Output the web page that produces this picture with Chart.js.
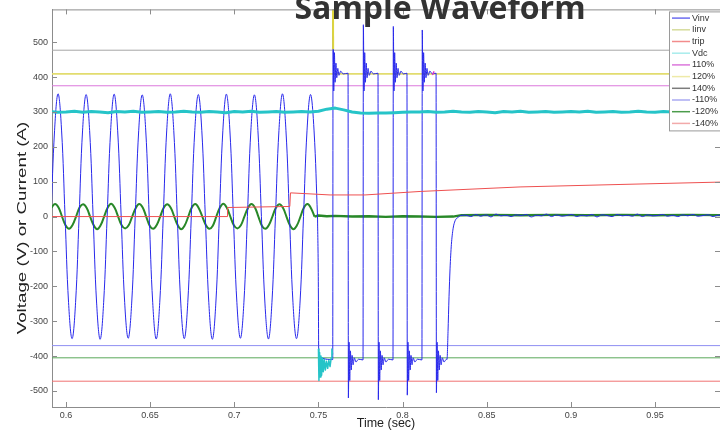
<!DOCTYPE html>
<html>
<head>
<meta charset="utf-8">
<script src="https://cdn.jsdelivr.net/npm/chart.js@4.4.1/dist/chart.umd.min.js"></script>
<style>
  html, body { margin: 0; padding: 0; background: #fff; }
  #wrap { width: 720px; height: 432px; }
</style>
</head>
<body>
<div id="wrap"><canvas id="myChart" width="720" height="432"></canvas></div>
<script>
const ctx = document.getElementById('myChart').getContext('2d');

// axis ranges (sec, V/A)
const xMin = 0.5917, xMax = 0.9886;
const yMin = -546, yMax = 594;

// Vinv sine part, sampled every 1/480 s
const vinvSineStart = 0.59113;
const vinvSineStep = 0.00208333;
const vinvSine = [
  0, 246, 352, 248, 0, -247, -350, -246,
  0, 248, 350, 247, 0, -248, -352, -247,
  0, 247, 351, 246, 0, -246, -349, -248,
  0, 246, 349, 248, 0, -247, -351, -247,
  0, 248, 352, 247, 0, -248, -350, -246,
  0, 247, 350, 246, 0, -247, -352, -248,
  0, 246, 351, 248, 0, -246, -349, -247,
  0, 248, 349, 247, 0, -248, -351, -246,
  0, 247, 352, 246, 0, -247, -350, -248,
  0, 246, 350, 248, 0
];

// Vinv after the trip: pulses with ringing, then recovery
const vinvPulseTime = [
  0.74946, 0.7499, 0.7502, 0.7585,
  0.7587, 0.7591, 0.7595, 0.7599, 0.7604, 0.7609, 0.7615, 0.7622, 0.7632, 0.7647, 0.7676,
  0.7678, 0.7682, 0.7686, 0.7690, 0.7695, 0.7700, 0.7706, 0.7713, 0.7723, 0.7738, 0.7765,
  0.7767, 0.7771, 0.7775, 0.7779, 0.7784, 0.7789, 0.7795, 0.7802, 0.7812, 0.7827, 0.7854,
  0.7856, 0.7860, 0.7864, 0.7868, 0.7873, 0.7878, 0.7884, 0.7891, 0.7901, 0.7916, 0.7943,
  0.7945, 0.7949, 0.7953, 0.7957, 0.7962, 0.7967, 0.7973, 0.7980, 0.7990, 0.8005, 0.8026,
  0.8028, 0.8032, 0.8036, 0.8040, 0.8045, 0.8050, 0.8056, 0.8063, 0.8073, 0.8088, 0.8115,
  0.8117, 0.8121, 0.8125, 0.8129, 0.8134, 0.8139, 0.8145, 0.8152, 0.8162, 0.8177, 0.8199,
  0.8201, 0.8205, 0.8209, 0.8213, 0.8218, 0.8223, 0.8229, 0.8236, 0.8246, 0.8261, 0.8264,
  0.8270, 0.8276, 0.8282, 0.8290, 0.8300, 0.8312, 0.8330, 0.8345
];
const vinvPulse = [
  0, -160, -400, -410,
  600, 360, 470, 385, 440, 398, 425, 405, 417, 409, 411,
  -520, -360, -470, -385, -440, -398, -425, -405, -417, -409, -411,
  550, 360, 470, 385, 440, 398, 425, 405, 417, 409, 411,
  -525, -360, -470, -385, -440, -398, -425, -405, -417, -409, -411,
  545, 360, 470, 385, 440, 398, 425, 405, 417, 409, 411,
  -512, -360, -470, -385, -440, -398, -425, -405, -417, -409, -411,
  535, 360, 470, 385, 440, 398, 425, 405, 417, 409, 411,
  -505, -360, -470, -385, -440, -398, -425, -405, -417, -409, -410,
  -330, -230, -150, -80, -35, -12, -2, 3
];

// Vinv noise floor at the end
const vinvTailStart = 0.8375;
const vinvTailStep = 0.003;
const vinvTail = [
  4, 0, 6, 1, 5, -1, 7, 2, 4, 0, 5, 3, 6, -1, 4, 2, 7, 0, 5, 1, 3, 6, 0, 4, 2, 6,
  -1, 5, 3, 0, 6, 2, 4, 1, 7, 0, 5, 2, 3, 6, 1, 4, 0, 5, 2, 6, 1, 3, 5, 0, 4, 2
];

// Iinv sine part
const iinvSineStart = 0.58933;
const iinvSineStep = 0.00208333;
const iinvSine = [
  0, 25, 36, 26, 0, -25, -35, -24,
  0, 26, 35, 25, 0, -24, -36, -25,
  0, 25, 37, 25, 0, -25, -34, -25,
  0, 24, 36, 26, 0, -26, -35, -24,
  0, 25, 35, 25, 0, -25, -36, -25,
  0, 26, 36, 24, 0, -24, -35, -26,
  0, 25, 37, 25, 0, -25, -34, -25,
  0, 24, 36, 26, 0, -26, -35, -24,
  0, 25, 35, 25, 0, -25, -36, -25,
  0, 26, 36, 24, 0
];
const iinvTailTime = [0.74766, 0.7500, 0.755, 0.76, 0.77, 0.78, 0.79, 0.80, 0.81, 0.82, 0.83, 0.835, 0.85, 0.87, 0.89, 0.91, 0.93, 0.95, 0.97, 0.99];
const iinvTail = [0, 3, 1, 2, 0, 1, -1, 1, 0, -1, 0, 4, 5, 4, 5, 4, 5, 4, 5, 4];

// trip signal
const tripTime = [0.59, 0.6957, 0.6960, 0.7330, 0.7334, 0.7569, 0.7777, 0.8104, 0.8698, 0.9292, 0.99];
const trip = [0, 0, 26, 29, 68, 62, 62, 72, 85, 92, 99];

// Vdc, every 5 ms
const vdcStart = 0.59;
const vdcStep = 0.005;
const vdc = [
  301, 299, 300, 302, 299, 301, 300, 298, 301, 300, 302, 299, 300, 301, 299, 300,
  302, 300, 299, 301, 300, 298, 301, 300, 302, 299, 300, 301, 299, 300, 301, 300,
  302, 308, 311, 306, 300, 297, 296, 297, 297, 298, 299, 300,
  300, 301, 299, 300, 302, 300, 299, 301, 300, 298, 301, 300, 302, 299, 300, 301,
  299, 300, 301, 300, 302, 299, 300, 301, 299, 300, 302, 300, 299, 301, 300, 298,
  301, 300, 302, 299, 300
];

// small coloured blips on the first pulses
const cyanBlipTime = [0.7500, 0.7503, 0.7507, 0.7511, 0.7515, 0.7519, 0.7524, 0.7529, 0.7535, 0.7541, 0.7548, 0.7555, 0.7562, 0.7569, 0.7576, 0.7580, 0.7584];
const cyanBlip = [-380, -470, -390, -460, -400, -455, -405, -445, -410, -440, -415, -435, -412, -430, -405, -380, -395];
const yellowBlipTime = [0.75865, 0.75875];
const yellowBlip = [600, 480];
const magentaBlipTime = [0.8178, 0.8186];
const magentaBlip = [412, 410];

// limit lines
const limitNames = ['110%', '120%', '140%', '-110%', '-120%', '-140%'];
const limitLevels = [375, 409, 477, -370, -405, -472];
const limitColors = ['#dc78dc', '#e2dc6e', '#a6a6a6', '#8e8ef2', '#5aa85a', '#f07272'];

const legendNames = ['Vinv', 'Iinv', 'trip', 'Vdc'].concat(limitNames);
const legendColors = ['#6c6cf0', '#d6dc9c', '#f28c8c', '#a8ecec', '#dc78dc', '#eeeaa8', '#7c7c7c', '#aaaaf2', '#4c9c4c', '#f2aaaa'];

function gridPoints(start, step, values) {
  return values.map((v, i) => ({ x: start + i * step, y: v }));
}
function pairPoints(times, values) {
  return times.map((t, i) => ({ x: t, y: values[i] }));
}

const datasets = [];

limitLevels.forEach((lvl, i) => {
  datasets.push({
    label: limitNames[i],
    data: [{ x: xMin, y: lvl }, { x: xMax, y: lvl }],
    borderColor: limitColors[i],
    borderWidth: i === 1 ? 1.6 : 1,
    order: 10
  });
});

const iinvColor = 'rgb(40,136,40)';
const vinvColor = 'rgb(40,40,235)';

datasets.push({
  label: 'Iinv',
  data: gridPoints(iinvSineStart, iinvSineStep, iinvSine),
  borderColor: iinvColor,
  borderWidth: 2,
  tension: 0.4,
  order: 6
});
datasets.push({
  label: 'Iinv tail',
  data: pairPoints(iinvTailTime, iinvTail),
  borderColor: iinvColor,
  borderWidth: 2.4,
  order: 6
});

datasets.push({
  label: 'Vinv',
  data: gridPoints(vinvSineStart, vinvSineStep, vinvSine),
  borderColor: vinvColor,
  borderWidth: 1,
  tension: 0.4,
  order: 5
});
datasets.push({
  label: 'Vinv pulses',
  data: pairPoints(vinvPulseTime, vinvPulse).concat(gridPoints(vinvTailStart, vinvTailStep, vinvTail)),
  borderColor: vinvColor,
  borderWidth: 1,
  cubicInterpolationMode: 'monotone',
  order: 5
});

datasets.push({
  label: 'trip',
  data: pairPoints(tripTime, trip),
  borderColor: 'rgb(238,80,80)',
  borderWidth: 1,
  order: 3
});

datasets.push({
  label: 'Vdc',
  data: gridPoints(vdcStart, vdcStep, vdc),
  borderColor: 'rgb(38,196,200)',
  borderWidth: 3,
  order: 2
});

datasets.push({ label: 'cyanBlip', data: pairPoints(cyanBlipTime, cyanBlip), borderColor: 'rgb(38,196,200)', borderWidth: 1.5, order: 1 });
datasets.push({ label: 'yellowBlip', data: pairPoints(yellowBlipTime, yellowBlip), borderColor: 'rgb(222,214,60)', borderWidth: 2, order: 1 });
datasets.push({ label: 'magentaBlip', data: pairPoints(magentaBlipTime, magentaBlip), borderColor: 'rgb(220,60,200)', borderWidth: 4, order: 1 });

// matlab-like frame, ticks, legend box and labels
const matlabFrame = {
  id: 'matlabFrame',
  afterDatasetsDraw(chart) {
    const c = chart.ctx;
    const a = chart.chartArea;
    const xs = chart.scales.x;
    const ys = chart.scales.y;
    c.save();
    c.strokeStyle = '#8c8c8c';
    c.lineWidth = 1;
    c.beginPath();
    c.moveTo(a.left, a.top + 0.5);
    c.lineTo(a.right, a.top + 0.5);
    xs.ticks.forEach(t => {
      const px = Math.round(xs.getPixelForValue(t.value)) + 0.5;
      c.moveTo(px, a.bottom); c.lineTo(px, a.bottom - 5);
      c.moveTo(px, a.top); c.lineTo(px, a.top + 5);
    });
    ys.ticks.forEach(t => {
      const py = Math.round(ys.getPixelForValue(t.value)) + 0.5;
      c.moveTo(a.left, py); c.lineTo(a.left + 5, py);
      c.moveTo(a.right - 5, py); c.lineTo(a.right, py);
    });
    c.stroke();

    // legend box
    const lx = a.right - 51, ly = a.top + 2;
    c.fillStyle = '#fff';
    c.fillRect(lx, ly, 60, 119);
    c.strokeStyle = '#9a9a9a';
    c.strokeRect(lx + 0.5, ly + 0.5, 60, 119);
    c.font = '9px "Liberation Sans", Arial, sans-serif';
    c.textBaseline = 'middle';
    c.textAlign = 'left';
    legendNames.forEach((name, i) => {
      const ry = ly + 6.7 + i * 11.7;
      c.strokeStyle = legendColors[i];
      c.lineWidth = 1.5;
      c.beginPath();
      c.moveTo(lx + 3, ry); c.lineTo(lx + 21, ry);
      c.stroke();
      c.fillStyle = '#333';
      c.fillText(name, lx + 23, ry);
    });

    // title (cut off at the top like the source)
    c.fillStyle = '#333';
    c.font = 'bold 32px "Open Sans", sans-serif';
    c.textAlign = 'center';
    c.textBaseline = 'alphabetic';
    c.fillText('Sample Waveform', 440, 19);

    // axis labels
    c.fillStyle = '#222';
    c.font = '12.5px "Liberation Sans", Arial, sans-serif';
    c.textBaseline = 'middle';
    c.fillText('Time (sec)', (a.left + a.right) / 2, 424);
    // the y label of the source is stretched along its length
    c.translate(23, 228);
    c.rotate(-Math.PI / 2);
    c.scale(1.5, 1);
    c.fillText('Voltage (V) or Current (A)', 0, 0);
    c.restore();
  }
};

new Chart(ctx, {
  type: 'line',
  data: { datasets },
  options: {
    responsive: false,
    animation: false,
    devicePixelRatio: 1,
    layout: { padding: { top: 7, right: 0, left: 0, bottom: 0 } },
    elements: { point: { radius: 0 }, line: { borderJoinStyle: 'round' } },
    plugins: { legend: { display: false }, tooltip: { enabled: false } },
    scales: {
      x: {
        type: 'linear',
        min: xMin,
        max: xMax,
        grid: { drawOnChartArea: false, drawTicks: false },
        border: { color: '#8c8c8c' },
        ticks: {
          stepSize: 0.05,
          includeBounds: false,
          autoSkip: false,
          maxRotation: 0,
          padding: 3,
          color: '#444',
          font: { family: '"Liberation Sans", Arial, sans-serif', size: 9 },
          callback: v => String(Math.round(v * 100) / 100)
        },
        afterFit: s => { s.height = 25; }
      },
      y: {
        min: yMin,
        max: yMax,
        grid: { drawOnChartArea: false, drawTicks: false },
        border: { color: '#8c8c8c' },
        ticks: {
          stepSize: 100,
          includeBounds: false,
          padding: 4,
          color: '#444',
          font: { family: '"Liberation Sans", Arial, sans-serif', size: 9 }
        },
        afterFit: s => { s.width = 52; }
      }
    }
  },
  plugins: [matlabFrame]
});
</script>
</body>
</html>
